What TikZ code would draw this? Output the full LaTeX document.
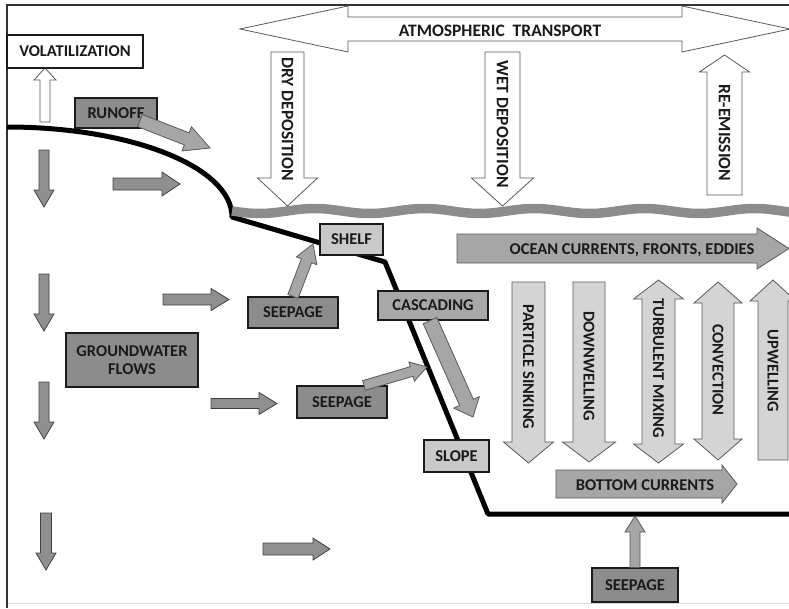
\documentclass[tikz,border=0pt]{standalone}
\usepackage{fontspec}
\setmainfont{Carlito}
\usetikzlibrary{calc}

\definecolor{ink}{HTML}{1A1A1A}
\definecolor{boxdark}{HTML}{8C8C8C}
\definecolor{boxmid}{HTML}{A8A8A8}
\definecolor{boxlight}{HTML}{C9C9C9}
\definecolor{flowmid}{HTML}{A6A6A6}
\definecolor{flowlight}{HTML}{D4D4D4}
\definecolor{flowdark}{HTML}{8F8F8F}
\definecolor{seagray}{HTML}{8C8C8C}

% fat arrow: [style]{from}{to}{shaft half width}{head half width}{head length}
\newcommand{\fatarrow}[6][]{%
  \coordinate (fa-h) at ($(#3)!#6pt!(#2)$);
  \draw[#1] ($(#2)!#4pt!90:(#3)$) -- ($(fa-h)!#4pt!-90:(#2)$) -- ($(fa-h)!#5pt!-90:(#2)$)
    -- (#3) -- ($(fa-h)!#5pt!90:(#2)$) -- ($(fa-h)!#4pt!90:(#2)$) -- ($(#2)!#4pt!-90:(#3)$) -- cycle;
}
% same, with a head at both ends
\newcommand{\dblarrow}[6][]{%
  \coordinate (da-a) at ($(#2)!#6pt!(#3)$);
  \coordinate (da-b) at ($(#3)!#6pt!(#2)$);
  \draw[#1] (#2) -- ($(da-a)!#5pt!90:(#3)$) -- ($(da-a)!#4pt!90:(#3)$) -- ($(da-b)!#4pt!-90:(#2)$)
    -- ($(da-b)!#5pt!-90:(#2)$) -- (#3) -- ($(da-b)!#5pt!90:(#2)$) -- ($(da-b)!#4pt!90:(#2)$)
    -- ($(da-a)!#4pt!-90:(#3)$) -- ($(da-a)!#5pt!-90:(#3)$) -- cycle;
}

\begin{document}
\begin{tikzpicture}[x=1pt,y=-1pt,
    lbl/.style={font=\bfseries\fontsize{16.5}{18}\selectfont, text=ink, inner sep=0pt},
    airlbl/.style={lbl, font=\bfseries\fontsize{17.5}{19}\selectfont},
    box/.style={lbl, draw=ink, line width=1.2pt},
    darkbox/.style={box, fill=boxdark},
    midbox/.style={box, fill=boxmid},
    lightbox/.style={box, fill=boxlight},
    whitebox/.style={box, fill=white},
    outline/.style={draw=black!65, line width=0.8pt, line join=miter},
    flowa/.style={outline, fill=flowmid},
    flowb/.style={outline, fill=flowlight},
    flowc/.style={outline, draw=black!75, fill=flowdark},
    flowd/.style={outline, fill=white},
    coast/.style={line width=5pt, black, line join=round},
    sea/.style={line width=9.5pt, seagray}]
\useasboundingbox (0,0) rectangle (789,608);
\clip (0,0) rectangle (789,608);

% frame
\draw[black!15, line width=1pt] (7,603) -- (789,603);
\draw[black!80, line width=2pt] (7,608) -- (7,5) -- (789,5);

% coast line and sea surface
\draw[coast] (7,127) .. controls (131,127) and (232,167) .. (232,217)
  -- (385,262) -- (488,514) -- (795,514);
\draw[sea] plot[domain=232:795, samples=140] (\x, {211+2.5*sin((\x-232)*3.2727)});

% atmosphere
\dblarrow[flowd]{240,29}{790,29}{12}{23}{108}
\node[airlbl] (atmt) at (500,31) {ATMOSPHERIC\ \ TRANSPORT};
\fatarrow[flowd]{287.5,52}{287.5,206}{16.5}{30}{28}
\node[airlbl, rotate=-90] (dryt) at (287.5,119) {DRY DEPOSITION};
\fatarrow[flowd]{502.5,52}{502.5,206}{17.5}{31}{28}
\node[airlbl, rotate=-90] (wett) at (502.5,124) {WET DEPOSITION};
\fatarrow[flowd]{724.5,195}{724.5,55}{17.5}{25}{17}
\node[airlbl, rotate=-90] (reemt) at (724.5,133) {RE-EMISSION};
\fatarrow[flowd]{45,122}{45,68}{5}{11}{12}

% ocean
\fatarrow[flowa]{457,248.5}{789,248.5}{14.5}{20.5}{32}
\node[lbl] (oceant) at (632,250) {OCEAN CURRENTS, FRONTS, EDDIES};
\fatarrow[flowb]{528.5,282}{528.5,463}{16.5}{25}{21}
\node[lbl, rotate=-90] (sinkt) at (528.5,367) {PARTICLE SINKING};
\fatarrow[flowb]{589,282}{589,462}{16}{26.5}{20}
\node[lbl, rotate=-90] (downt) at (589,366) {DOWNWELLING};
\dblarrow[flowb]{658.5,280}{658.5,463}{16.5}{25}{19}
\node[lbl, rotate=-90] (turbt) at (658.5,368) {TURBULENT MIXING};
\dblarrow[flowb]{718,282}{718,460}{16}{24}{21}
\node[lbl, rotate=-90] (convt) at (718,370) {CONVECTION};
\fatarrow[flowb]{773,460}{773,280}{15}{23}{21}
\node[lbl, rotate=-90] (upwt) at (773,371) {UPWELLING};
\fatarrow[flowa]{556,484}{737,484}{14}{19}{15}
\node[lbl] (bottomt) at (645,485) {BOTTOM CURRENTS};

% groundwater flows
\foreach \y in {150,274,382} {
  \fatarrow[flowc]{44,\y}{44,\y+57}{5}{10}{17}
}
\fatarrow[flowc]{46,513}{46,570}{5.5}{10}{17}
\fatarrow[flowc]{113,184}{180,184}{6}{12}{18}
\fatarrow[flowc]{163,299.5}{229,299.5}{5.5}{11}{18}
\fatarrow[flowc]{211,403.5}{277,403.5}{5}{11}{18}
\fatarrow[flowc]{263,549}{330,549}{6}{11}{17}

% boxes
\node[whitebox, minimum width=136pt, minimum height=33pt] (volat) at (75,51.5) {VOLATILIZATION};
\node[darkbox, minimum width=82pt, minimum height=30pt] (runoff) at (116,113) {RUNOFF};
\node[lightbox, minimum width=63pt, minimum height=31pt] (shelf) at (351.5,239.5) {SHELF};
\node[darkbox, minimum width=90pt, minimum height=31pt] (seepa) at (293,312.5) {SEEPAGE};
\node[midbox, minimum width=110pt, minimum height=29pt] (cascade) at (433,305.5) {CASCADING};
\node[darkbox, minimum width=90pt, minimum height=32pt] (seepb) at (342,402) {SEEPAGE};
\node[lightbox, minimum width=65pt, minimum height=32pt] (slope) at (456.5,456) {SLOPE};
\node[darkbox, minimum width=86pt, minimum height=34pt] (seepc) at (635,585) {SEEPAGE};
\node[darkbox, minimum width=132pt, minimum height=54pt, align=center] (gwflow) at (132,360)
  {GROUNDWATER\\FLOWS};

% connectors from the boxes to the sea floor
\coordinate (runoffend) at (210,148);
\coordinate (seepaend) at (313,244);
\coordinate (seepbend) at (427,367);
\coordinate (cascadeend) at (473,417);
\coordinate (seepcend) at (635,516);
\fatarrow[flowa]{$(runoff.south)+(24,-8)$}{runoffend}{6.5}{13}{25}
\fatarrow[flowa]{seepa.north}{seepaend}{5.5}{11}{18}
\fatarrow[flowa]{$(seepb.north)+(22,0)$}{seepbend}{5}{10}{16}
\fatarrow[flowa]{$(cascade.south)+(-3,0)$}{cascadeend}{7.5}{14}{16}
\fatarrow[flowa]{seepc.north}{seepcend}{5}{10}{16}
\end{tikzpicture}
\end{document}
